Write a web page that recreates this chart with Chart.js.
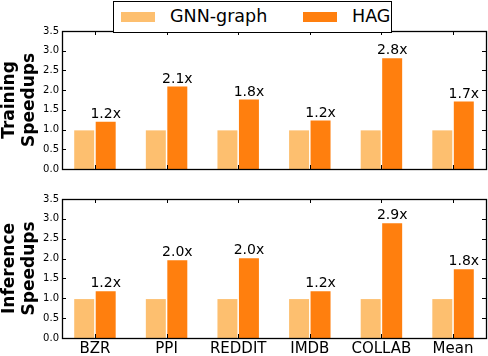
<!DOCTYPE html>
<html>
<head>
<meta charset="utf-8">
<script src="https://cdn.jsdelivr.net/npm/chart.js@4/dist/chart.umd.min.js"></script>
<style>
  body { margin: 0; background: #fff; }
  #wrap { position: relative; width: 488px; height: 356px; font-family: "DejaVu Sans", sans-serif; }
  .panel { position: absolute; left: 0; width: 488px; height: 178px; }
  #legend {
    position: absolute; left: 113px; top: 1px; width: 277px; height: 30px;
    border: 1px solid #000; background: #fff; z-index: 2;
    font-size: 17.5px; color: #000;
  }
  .sw { position: absolute; top: 10px; width: 34px; height: 10px; }
  .lt { position: absolute; top: 4px; line-height: 20px; }
</style>
</head>
<body>
<div id="wrap">
  <div id="legend">
    <span class="sw" style="left:7px;background:#fdbf6f"></span>
    <span class="lt" style="left:56px">GNN-graph</span>
    <span class="sw" style="left:189px;background:#ff7f0e"></span>
    <span class="lt" style="left:238px">HAG</span>
  </div>
  <div class="panel" style="top:0"><canvas id="train" width="488" height="178"></canvas></div>
  <div class="panel" style="top:178px"><canvas id="infer" width="488" height="178"></canvas></div>
</div>
<script>
// Data
const categories = ['BZR', 'PPI', 'REDDIT', 'IMDB', 'COLLAB', 'Mean'];
const seriesNames = ['GNN-graph', 'HAG'];
const trainBaseline = [0.98, 0.98, 0.98, 0.98, 0.98, 0.98];
const trainHag = [1.2, 2.09, 1.76, 1.23, 2.81, 1.71];
const trainLabels = ['1.2x', '2.1x', '1.8x', '1.2x', '2.8x', '1.7x'];
const inferBaseline = [0.98, 0.98, 0.98, 0.98, 0.98, 0.98];
const inferHag = [1.18, 1.96, 2.01, 1.18, 2.89, 1.73];
const inferLabels = ['1.2x', '2.0x', '2.0x', '1.2x', '2.9x', '1.8x'];
const yTicks = [0, 0.5, 1, 1.5, 2, 2.5, 3, 3.5];

const lightOrange = '#fdbf6f';
const orange = '#ff7f0e';
const font = '"DejaVu Sans", sans-serif';

// frame + inward tick marks, like matplotlib
const framePlugin = {
    id: 'frame',
    afterDraw(chart) {
        const { ctx, chartArea: a, scales } = chart;
        ctx.save();
        ctx.strokeStyle = '#000';
        ctx.lineWidth = 1;
        ctx.beginPath();
        scales.y.ticks.forEach(t => {
            const y = Math.round(scales.y.getPixelForValue(t.value)) + 0.5;
            ctx.moveTo(a.left, y); ctx.lineTo(a.left + 4, y);
            ctx.moveTo(a.right, y); ctx.lineTo(a.right - 4, y);
        });
        categories.forEach((c, i) => {
            const x = Math.round(scales.x.getPixelForValue(i)) + 0.5;
            ctx.moveTo(x, a.bottom); ctx.lineTo(x, a.bottom - 4);
            ctx.moveTo(x, a.top); ctx.lineTo(x, a.top + 4);
        });
        ctx.stroke();
        ctx.lineWidth = 1.3;
        ctx.strokeRect(Math.round(a.left) + 0.5, Math.round(a.top) + 0.5,
            Math.round(a.right - a.left), Math.round(a.bottom - a.top));
        ctx.restore();
    }
};

// "1.2x" style labels on top of the HAG bars
const valueLabelPlugin = {
    id: 'valueLabels',
    afterDatasetsDraw(chart, args, opts) {
        const { ctx } = chart;
        const meta = chart.getDatasetMeta(1);
        ctx.save();
        ctx.font = '14px ' + font;
        ctx.fillStyle = '#000';
        ctx.textAlign = 'center';
        ctx.textBaseline = 'alphabetic';
        meta.data.forEach((bar, i) => {
            ctx.fillText(opts.labels[i], bar.x, bar.y - 4);
        });
        ctx.restore();
    }
};

function makeChart(id, title, base, hag, labels, showX, padTop, xHeight) {
    const ctx = document.getElementById(id).getContext('2d');
    return new Chart(ctx, {
        type: 'bar',
        data: {
            datasets: [
                {
                    label: seriesNames[0],
                    data: base.map((v, i) => ({ x: i, y: v })),
                    backgroundColor: lightOrange,
                    borderWidth: 0,
                    categoryPercentage: 0.6,
                    barPercentage: 0.93
                },
                {
                    label: seriesNames[1],
                    data: hag.map((v, i) => ({ x: i, y: v })),
                    backgroundColor: orange,
                    borderWidth: 0,
                    categoryPercentage: 0.6,
                    barPercentage: 0.93
                }
            ]
        },
        options: {
            responsive: false,
            animation: false,
            devicePixelRatio: 1,
            layout: { padding: { top: padTop, right: 2, left: 0, bottom: 0 } },
            plugins: {
                legend: { display: false },
                tooltip: { enabled: false },
                valueLabels: { labels: labels }
            },
            scales: {
                x: {
                    type: 'linear',
                    min: -0.46,
                    max: 5.46,
                    offset: false,
                    afterBuildTicks: s => { s.ticks = categories.map((c, i) => ({ value: i })); },
                    afterFit: s => { s.height = xHeight; },
                    grid: { display: false, drawTicks: false },
                    border: { display: false },
                    ticks: {
                        display: showX,
                        autoSkip: false,
                        maxRotation: 0,
                        padding: 2,
                        color: '#000',
                        font: { family: font, size: 15 },
                        callback: v => categories[v]
                    }
                },
                y: {
                    min: 0,
                    max: 3.5,
                    afterBuildTicks: s => { s.ticks = yTicks.map(v => ({ value: v })); },
                    afterFit: s => { s.width = 62; },
                    grid: { display: false, drawTicks: false },
                    border: { display: false },
                    ticks: {
                        padding: 3,
                        color: '#000',
                        font: { family: font, size: 10 },
                        callback: v => v.toFixed(1)
                    },
                    title: {
                        display: true,
                        text: title,
                        color: '#000',
                        padding: { top: 0, bottom: 0 },
                        font: { family: font, size: 17, weight: 'bold', lineHeight: 1.15 }
                    }
                }
            }
        },
        plugins: [framePlugin, valueLabelPlugin]
    });
}

makeChart('train', ['Training', 'Speedups'], trainBaseline, trainHag, trainLabels, false, 31, 7);
makeChart('infer', ['Inference', 'Speedups'], inferBaseline, inferHag, inferLabels, true, 21, 18);
</script>
</body>
</html>
